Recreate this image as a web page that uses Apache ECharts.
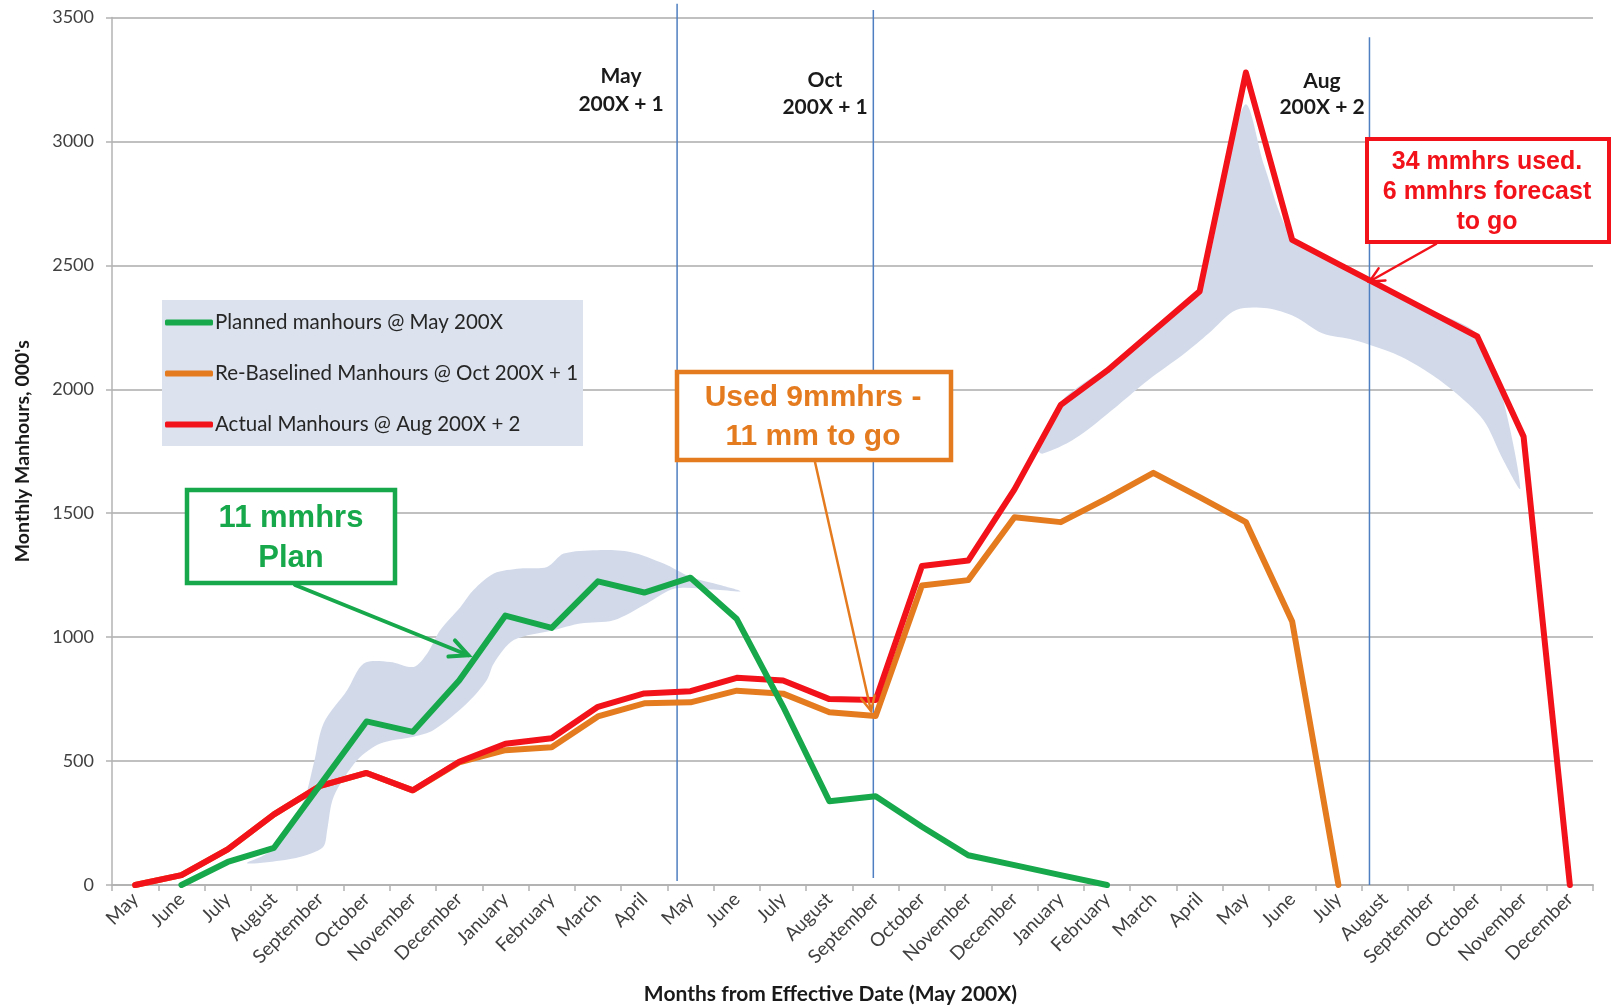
<!DOCTYPE html>
<html>
<head>
<meta charset="utf-8">
<script src="https://cdn.jsdelivr.net/npm/echarts@6/dist/echarts.min.js"></script>
<style>
  html, body { margin: 0; padding: 0; background: #ffffff; }
  #chart { width: 1616px; height: 1007px; }
</style>
</head>
<body>
<div id="chart"></div>
<script>
// ---------------- DATA ----------------
const categories = [
  'May','June','July','August','September','October','November','December',
  'January','February','March','April','May','June','July','August','September','October','November','December',
  'January','February','March','April','May','June','July','August','September','October','November','December'
];
const yTicks = [0, 500, 1000, 1500, 2000, 2500, 3000, 3500];

const plannedMay = [null, 0, 93, 150, 405, 660, 618, 825, 1087, 1037, 1225, 1180, 1240, 1073, 720, 338, 358, 235, 120, 80, 40, 0,
  null, null, null, null, null, null, null, null, null, null];
const rebaselinedOct = [0, 40, 144, 285, 400, 452, 382, 495, 544, 556, 680, 733, 737, 784, 772, 697, 682, 1208, 1230, 1484, 1464, 1560,
  1663, 1565, 1464, 1063, 0, null, null, null, null, null];
const actualAug = [0, 40, 144, 285, 400, 452, 382, 497, 570, 592, 719, 773, 782, 836, 825, 750, 746, 1287, 1309, 1596, 1937, 2075,
  2235, 2395, 3278, 2603, 2505, 2408, 2310, 2213, 1809, 0];

// Milestone lines: [category position, top value, bottom value]
const milestoneLines = [[11.71, 3555, 16], [15.95, 3530, 28], [26.67, 3420, 0]];

// Hand-drawn highlight areas (category position, value)
const planHighlight = [
  [2.42, 88], [2.85, 128], [3.05, 182], [3.62, 330], [3.86, 491], [4.07, 652], [4.58, 786], [4.94, 894],
  [5.51, 900], [6.02, 880], [6.31, 934], [6.59, 1028], [7.03, 1122], [7.31, 1190], [7.75, 1257], [8.32, 1277],
  [8.9, 1283], [9.26, 1337], [9.98, 1351], [10.7, 1344], [11.42, 1297], [12.0, 1243], [12.5, 1217], [13.08, 1185],
  [12.5, 1192], [11.66, 1196], [11.06, 1136], [10.34, 1068], [9.62, 1055], [9.04, 1028], [8.18, 988], [7.75, 894],
  [7.6, 827], [7.17, 733], [6.45, 625], [6.02, 598], [5.3, 571], [4.8, 504], [4.29, 356], [4.15, 222], [4.07, 155],
  [3.71, 121], [3.24, 101]
];
const actualHighlight = [
  [19.5, 1760], [20, 1950], [21, 2090], [22, 2250], [23, 2410], [23.6, 2900], [24, 3150], [24.4, 2900], [25, 2615],
  [26, 2515], [27, 2418], [28, 2320], [29, 2222], [29.5, 2000], [29.93, 1600],
  [29.56, 1715], [29.13, 1876], [28.46, 1997], [27.86, 2078], [27.19, 2145], [26.33, 2199], [25.65, 2226],
  [25.06, 2293], [24.46, 2327], [23.79, 2320], [23.2, 2226], [22.68, 2145], [21.9, 2038], [21.2, 1930],
  [20.3, 1800], [19.6, 1740]
];

// Annotation arrow tips (category position, value)
const planArrowTip = [7.2, 927];
const usedArrowTip = [15.9, 702];
const forecastArrowTip = [26.67, 2435];

// ---------------- STYLE ----------------
const GREEN = '#17a84b';
const ORANGE = '#e57b1f';
const RED = '#f2121a';
const BLOB = '#d2daea';
const MILESTONE = '#4f7fc0';
const FONT = 'Lato, "Open Sans", sans-serif';
const BOXFONT = '"Liberation Sans", Arial, sans-serif';

const chart = echarts.init(document.getElementById('chart'), null, { renderer: 'canvas' });

function polygonRenderer(points) {
  return function (params, api) {
    if (params.dataIndex !== 0) return null;
    const pts = points.map(p => api.coord(p));
    return { type: 'polygon', shape: { points: pts, smooth: 0.3 }, style: { fill: BLOB } };
  };
}

const lineCommon = {
  type: 'line', xAxisIndex: 0, yAxisIndex: 0, symbol: 'none', connectNulls: false,
  z: 3
};

const option = {
  animation: false,
  backgroundColor: '#ffffff',
  textStyle: { fontFamily: FONT },
  grid: { left: 112, right: 23, top: 17.5, bottom: 122, containLabel: false, outerBoundsMode: 'none' },
  legend: {
    orient: 'vertical', left: 165, top: 311.5, padding: 0, itemGap: 29,
    itemWidth: 48, itemHeight: 6, icon: 'roundRect',
    data: ['Planned manhours @ May 200X', 'Re-Baselined Manhours @ Oct 200X + 1', 'Actual Manhours @ Aug 200X + 2'],
    textStyle: { fontSize: 20.5, lineHeight: 22, color: '#262626', fontFamily: FONT, padding: [0, 0, 0, -3] },
    selectedMode: false, z: 6
  },
  xAxis: [
    {
      type: 'category', data: categories, boundaryGap: true,
      axisLine: { onZero: false, lineStyle: { color: '#b3b3b3', width: 2 } },
      axisTick: { show: true, length: 6, lineStyle: { color: '#b3b3b3', width: 1.5 } },
      axisLabel: { interval: 0, rotate: 45, fontSize: 19, color: '#404040', margin: 11 },
      name: 'Months from Effective Date (May 200X)', nameLocation: 'middle', nameGap: 99,
      nameTextStyle: { fontWeight: 'bold', fontSize: 21, color: '#1a1a1a', padding: [0, 44, 0, 0] }
    },
    { type: 'value', min: -0.5, max: 31.5, show: false, axisLine: { onZero: false } }
  ],
  yAxis: {
    type: 'value', min: yTicks[0], max: yTicks[yTicks.length - 1], interval: 500,
    axisLine: { show: true, onZero: false, lineStyle: { color: '#b3b3b3', width: 1.5 } },
    axisTick: { show: true, length: 6, lineStyle: { color: '#b3b3b3', width: 1.5 } },
    splitLine: { lineStyle: { color: '#ababab', width: 1.5 } },
    axisLabel: { fontSize: 18, color: '#404040', margin: 18, formatter: function (v) { return String(v); } },
    name: "Monthly Manhours, 000's", nameLocation: 'middle', nameGap: 79,
    nameTextStyle: { fontWeight: 'bold', fontSize: 19.5, color: '#1a1a1a' }
  },
  series: [
    {
      type: 'custom', name: 'planHighlight', xAxisIndex: 1, yAxisIndex: 0, clip: false, z: 2,
      data: planHighlight, encode: { x: 0, y: 1 }, renderItem: polygonRenderer(planHighlight), silent: true
    },
    {
      type: 'custom', name: 'actualHighlight', xAxisIndex: 1, yAxisIndex: 0, clip: false, z: 2,
      data: actualHighlight, encode: { x: 0, y: 1 }, renderItem: polygonRenderer(actualHighlight), silent: true
    },
    {
      type: 'custom', name: 'milestones', xAxisIndex: 1, yAxisIndex: 0, clip: false, z: 2, silent: true,
      data: milestoneLines, encode: { x: 0, y: [1, 2] },
      renderItem: function (params, api) {
        const a = api.coord([api.value(0), api.value(1)]);
        const b = api.coord([api.value(0), api.value(2)]);
        return { type: 'line', shape: { x1: a[0], y1: a[1], x2: b[0], y2: b[1] },
          style: { stroke: MILESTONE, lineWidth: 1.5 } };
      }
    },
    Object.assign({}, lineCommon, {
      name: 'Re-Baselined Manhours @ Oct 200X + 1', data: rebaselinedOct, color: ORANGE,
      lineStyle: { color: ORANGE, width: 6, cap: 'round', join: 'round' }
    }),
    Object.assign({}, lineCommon, {
      name: 'Actual Manhours @ Aug 200X + 2', data: actualAug, color: RED,
      lineStyle: { color: RED, width: 6, cap: 'round', join: 'round' }
    }),
    Object.assign({}, lineCommon, {
      name: 'Planned manhours @ May 200X', data: plannedMay, color: GREEN,
      lineStyle: { color: GREEN, width: 6, cap: 'round', join: 'round' }
    })
  ]
};

chart.setOption(option);

// ---------------- ANNOTATIONS ----------------
function toPx(p) { return chart.convertToPixel({ xAxisIndex: 1, yAxisIndex: 0 }, p); }

function arrow(start, tip, color, width, head) {
  const dx = tip[0] - start[0], dy = tip[1] - start[1];
  const len = Math.sqrt(dx * dx + dy * dy);
  const ux = dx / len, uy = dy / len;
  const ang = Math.PI / 7;
  const h1 = [tip[0] - head * (ux * Math.cos(ang) - uy * Math.sin(ang)), tip[1] - head * (uy * Math.cos(ang) + ux * Math.sin(ang))];
  const h2 = [tip[0] - head * (ux * Math.cos(ang) + uy * Math.sin(ang)), tip[1] - head * (uy * Math.cos(ang) - ux * Math.sin(ang))];
  return [
    { type: 'line', z: 20, shape: { x1: start[0], y1: start[1], x2: tip[0], y2: tip[1] }, style: { stroke: color, lineWidth: width, lineCap: 'round' } },
    { type: 'polyline', z: 20, shape: { points: [h1, tip, h2] }, style: { stroke: color, lineWidth: width, lineCap: 'round', lineJoin: 'miter', fill: null } }
  ];
}

function boxText(x, y, text, color, size) {
  return { type: 'text', z: 22, x: x, y: y,
    style: { text: text, fill: color, font: 'bold ' + size + 'px ' + BOXFONT, align: 'center', verticalAlign: 'middle' } };
}
function labelText(x, y, text) {
  return { type: 'text', z: 22, x: x, y: y,
    style: { text: text, fill: '#1a1a1a', font: 'bold 21px ' + FONT, align: 'center', verticalAlign: 'middle' } };
}

const graphics = [];
// legend background
graphics.push({ type: 'rect', z: 3, shape: { x: 162, y: 300, width: 421, height: 146 }, style: { fill: '#dce3ee' } });

// milestone labels
graphics.push(labelText(621, 76, 'May'), labelText(621, 104, '200X + 1'));
graphics.push(labelText(825, 80, 'Oct'), labelText(825, 107, '200X + 1'));
graphics.push(labelText(1322, 81, 'Aug'), labelText(1322, 107, '200X + 2'));

// arrows
graphics.push.apply(graphics, arrow([295, 585], toPx(planArrowTip), GREEN, 4, 20));
graphics.push.apply(graphics, arrow([815, 462], toPx(usedArrowTip), ORANGE, 2.5, 16));
graphics.push.apply(graphics, arrow([1436, 244], toPx(forecastArrowTip), RED, 2.5, 16));

// boxes
graphics.push({ type: 'rect', z: 21, shape: { x: 187, y: 490, width: 208, height: 93 }, style: { fill: '#ffffff', stroke: GREEN, lineWidth: 4.5 } });
graphics.push(boxText(291, 518, '11 mmhrs', GREEN, 31), boxText(291, 558, 'Plan', GREEN, 31));

graphics.push({ type: 'rect', z: 21, shape: { x: 677, y: 372, width: 274, height: 88 }, style: { fill: '#ffffff', stroke: ORANGE, lineWidth: 4.5 } });
graphics.push(boxText(813, 398, 'Used 9mmhrs -', ORANGE, 30), boxText(813, 437, '11 mm to go', ORANGE, 30));

graphics.push({ type: 'rect', z: 21, shape: { x: 1367, y: 139, width: 242, height: 103 }, style: { fill: '#ffffff', stroke: RED, lineWidth: 4 } });
graphics.push(boxText(1487, 162, '34 mmhrs used.', RED, 25), boxText(1487, 192, '6 mmhrs forecast', RED, 25), boxText(1487, 222, 'to go', RED, 25));

chart.setOption({ graphic: graphics });
</script>
</body>
</html>
